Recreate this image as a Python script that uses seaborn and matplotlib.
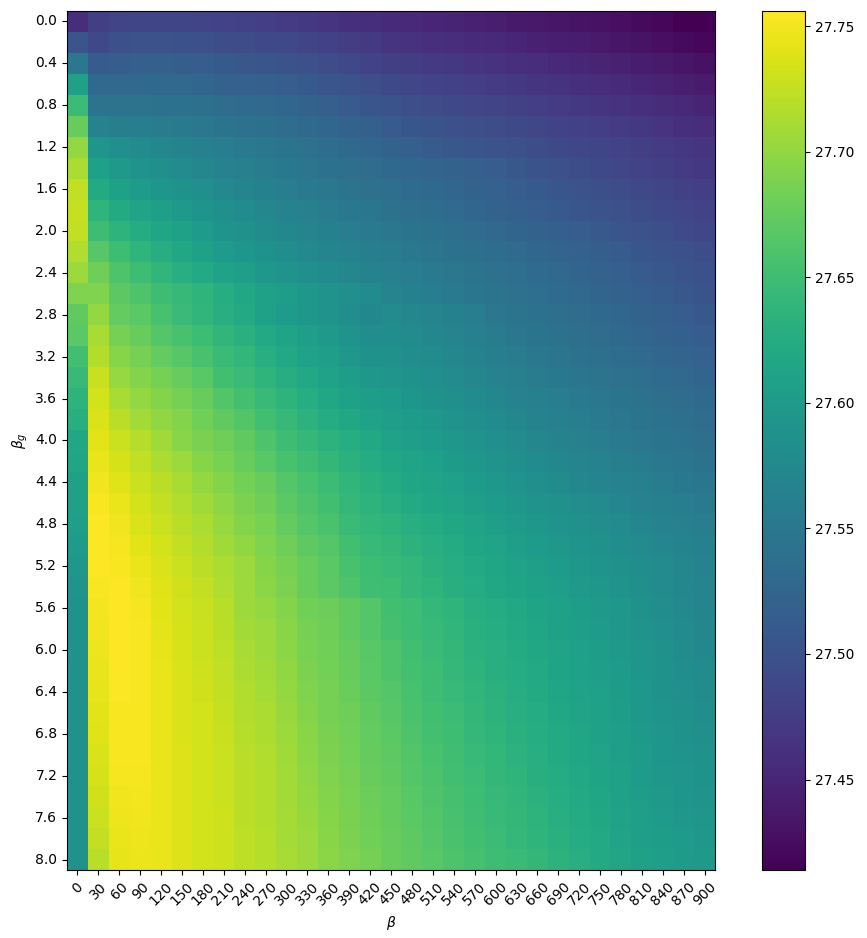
import numpy as np
import pandas as pd
import matplotlib
matplotlib.use("Agg")
import matplotlib.pyplot as plt
import seaborn as sns

beta = list(range(0, 901, 30))
beta_g = [round(i * 0.2, 1) for i in range(41)]

# values, in thousandths above 27
mean_psnr_milli = [
 [458,478,483,484,484,484,483,481,479,476,473,469,466,462,459,455,453,450,448,446,443,438,436,434,431,429,427,423,420,415,413],
 [505,490,498,500,500,499,497,494,492,490,488,483,479,475,471,467,463,460,458,455,452,449,446,443,440,437,434,431,427,423,420],
 [550,512,514,516,516,515,514,510,507,505,502,497,492,488,482,478,475,472,469,466,463,460,457,454,451,448,445,441,437,433,429],
 [610,530,528,530,530,528,526,522,519,516,514,509,504,500,495,490,485,482,479,476,473,470,467,464,461,458,455,451,447,443,439],
 [647,545,544,544,543,541,539,535,532,528,525,520,516,511,506,501,496,492,489,486,483,480,476,473,470,467,464,460,456,452,448],
 [676,565,560,559,556,553,550,546,543,539,535,530,526,521,517,511,505,501,498,495,492,489,485,482,479,476,473,469,465,461,457],
 [701,592,583,578,572,567,562,557,553,549,545,540,535,530,526,522,516,511,507,503,500,497,493,490,487,484,481,477,473,469,465],
 [713,607,598,590,584,578,572,566,561,556,552,547,543,538,534,530,526,523,520,516,513,507,501,497,493,489,486,482,478,474,470],
 [723,622,610,600,594,588,583,575,569,563,558,553,549,544,540,536,532,529,526,522,519,514,510,506,500,496,492,488,484,480,476],
 [726,636,622,612,606,598,591,584,578,572,566,561,556,551,548,543,538,535,531,527,522,518,514,510,506,502,498,494,490,486,482],
 [725,650,635,625,616,608,600,591,585,579,573,568,563,558,553,549,545,541,537,533,528,524,520,517,513,508,504,500,496,491,487],
 [715,666,648,636,627,618,609,600,594,587,580,575,570,565,560,556,551,547,543,539,535,531,527,523,519,515,511,506,502,497,492],
 [704,680,660,648,638,628,620,611,604,597,590,584,578,572,567,562,557,553,549,544,540,536,532,528,524,520,516,511,507,502,497],
 [690,690,670,660,650,643,636,626,618,610,603,597,590,584,578,568,563,558,553,548,544,540,536,532,528,524,520,516,512,507,502],
 [673,700,674,668,656,646,638,628,622,610,600,596,590,582,574,576,572,568,563,558,550,546,542,538,534,530,526,522,518,513,507],
 [669,711,685,676,665,656,648,638,631,620,612,604,598,590,582,580,576,572,568,562,555,550,546,542,538,534,530,526,522,518,513],
 [652,717,694,684,674,666,657,646,639,628,619,611,604,597,589,585,581,577,572,567,560,555,551,547,543,539,535,531,527,523,519],
 [645,727,702,693,684,676,667,652,646,636,627,619,611,603,597,592,587,583,578,572,566,561,556,552,548,544,540,536,532,528,524],
 [635,732,711,701,693,685,676,663,654,644,635,626,618,610,603,600,594,589,584,578,572,566,561,557,553,549,545,541,537,533,529],
 [630,737,720,709,699,692,682,673,663,653,643,634,625,618,611,606,600,595,590,584,578,572,567,562,558,554,550,546,542,538,534],
 [618,741,729,718,707,695,687,680,672,660,650,642,634,626,619,611,606,601,596,590,583,577,572,567,562,558,554,550,546,542,538],
 [616,745,734,723,713,705,694,686,677,667,657,650,640,632,625,618,612,607,602,596,590,584,578,573,568,564,560,556,551,547,543],
 [610,748,739,728,720,711,701,693,683,676,665,656,647,638,631,623,617,612,607,601,596,590,584,579,574,570,566,561,556,552,548],
 [607,752,745,732,724,716,707,698,688,681,670,661,653,642,635,628,622,617,612,606,601,596,590,585,580,576,571,566,561,557,553],
 [604,754,749,736,728,720,712,702,693,686,674,665,658,646,639,635,628,623,618,612,606,601,596,590,586,581,576,571,566,562,558],
 [600,754,751,741,732,725,716,707,699,690,680,671,664,652,644,640,634,628,623,617,612,606,601,596,591,586,581,576,571,567,563],
 [596,755,753,745,736,729,721,712,704,694,684,676,668,657,649,645,639,633,627,621,616,611,606,601,596,591,586,581,576,572,566],
 [590,753,755,749,739,731,725,715,704,697,688,677,670,660,651,648,642,636,630,624,618,614,609,604,599,595,590,584,578,572,568],
 [588,750,755,751,741,733,727,719,706,701,693,682,679,672,664,652,648,642,636,629,624,619,614,608,603,599,595,588,581,575,570],
 [587,749,755,752,742,734,728,720,709,704,695,684,680,673,665,655,650,644,638,631,626,621,616,610,605,601,597,590,583,577,572],
 [587,747,755,752,743,735,729,722,711,706,697,686,682,675,667,660,652,646,640,633,628,623,618,612,607,603,598,592,585,579,574],
 [586,745,755,752,744,736,730,723,713,708,699,688,683,677,669,661,654,648,642,635,630,625,620,614,609,605,600,594,587,581,577],
 [586,743,754,752,744,736,731,725,715,710,701,690,684,678,670,664,656,650,644,638,632,627,622,616,611,607,602,595,589,584,579],
 [586,741,753,752,745,737,732,726,716,712,703,692,685,680,672,666,658,652,647,640,634,629,624,618,613,608,603,597,591,586,581],
 [586,739,753,752,745,737,732,727,718,714,705,695,687,682,674,669,660,654,649,642,636,631,626,620,615,610,605,598,592,588,584],
 [585,737,752,752,745,738,733,728,719,715,707,697,688,683,675,671,663,657,651,645,639,634,628,622,617,612,606,600,594,590,586],
 [585,734,751,751,745,738,733,729,720,716,708,699,690,684,677,672,665,659,653,647,641,636,630,624,619,614,608,601,596,592,588],
 [585,731,749,750,745,738,733,729,721,717,709,701,692,686,679,674,667,661,655,649,643,638,632,626,621,616,610,603,598,594,590],
 [585,728,747,749,745,738,733,730,721,717,710,703,694,687,681,675,669,663,657,651,645,640,635,628,623,618,611,604,601,597,593],
 [585,724,745,747,745,738,733,730,722,718,710,704,695,688,682,676,671,665,658,653,647,642,637,631,625,620,613,606,603,600,596],
 [585,719,743,746,745,738,733,730,722,718,711,706,697,690,684,677,673,667,660,655,650,646,641,634,628,622,615,608,605,602,598],
]

df = pd.DataFrame(27 + np.array(mean_psnr_milli) / 1000, index=beta_g, columns=beta)

W, H = 867, 938
fig = plt.figure(figsize=(W / 100, H / 100), dpi=100)
ax = fig.add_axes([67 / W, 1 - 870 / H, 648 / W, 859 / H])
cax = fig.add_axes([762 / W, 1 - 870 / H, 43 / W, 859 / H])

sns.heatmap(df, ax=ax, cbar_ax=cax, cmap="viridis", vmin=27.414, vmax=27.756,
            xticklabels=1, yticklabels=2)
ax.set_xlabel(r"$\beta$")
ax.set_ylabel(r"$\beta_g$")
ax.tick_params(axis="x", labelrotation=45)
ax.tick_params(axis="y", labelrotation=0)
for s in ax.spines.values():
    s.set_visible(True)
    s.set_linewidth(0.8)
    s.set_color("black")
cbar = ax.collections[0].colorbar
cbar.set_ticks([27.45, 27.50, 27.55, 27.60, 27.65, 27.70, 27.75])
cbar.set_ticklabels(["27.45", "27.50", "27.55", "27.60", "27.65", "27.70", "27.75"])
cbar.outline.set_visible(True)
cbar.outline.set_edgecolor("black")
cbar.outline.set_linewidth(0.8)
cbar.ax.tick_params(length=3.5, width=0.8, labelsize=10)

fig.savefig("out.png", dpi=100)
